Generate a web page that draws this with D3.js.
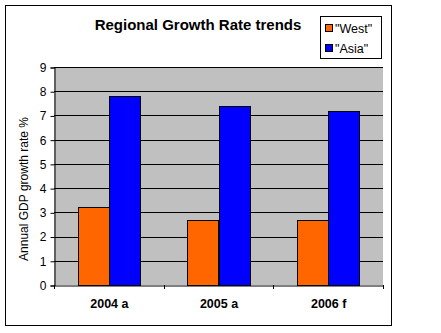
<!DOCTYPE html>
<html><head><meta charset="utf-8">
<script src="https://cdn.jsdelivr.net/npm/d3@7"></script>
<style>body{margin:0;background:#fff;}svg{display:block;}</style>
</head><body>
<script>
const categories = ["2004 a", "2005 a", "2006 f"];
const seriesNames = ["\"West\"", "\"Asia\""];
const west = [3.2, 2.7, 2.7];
const asia = [7.8, 7.4, 7.2];
const yTicks = [0,1,2,3,4,5,6,7,8,9];
const colors = ["#FF6600", "#0000FF"];

const W = 441, H = 333;
const svg = d3.select("body").append("svg").attr("width", W).attr("height", H);
const font = "Arial, 'Liberation Sans', sans-serif";

svg.append("rect").attr("x",5.5).attr("y",5.5).attr("width",386).attr("height",320)
  .attr("fill","#fff").attr("stroke","#000");

const L = 54, R = 383, T = 67, B = 285;
const x = d3.scaleBand().domain(categories).range([L, R]);
const y = d3.scaleLinear().domain([0, 9]).range([B, T]);

svg.append("rect").attr("x",L).attr("y",T).attr("width",R-L).attr("height",B-T).attr("fill","#C0C0C0");

// gridlines
svg.append("g").selectAll("line").data(yTicks.slice(1)).join("line")
  .attr("x1",L).attr("x2",R).attr("y1",d=>Math.round(y(d))+0.5).attr("y2",d=>Math.round(y(d))+0.5)
  .attr("stroke","#000");

// bars
const bw = x.bandwidth();
const barW = bw*0.284;
const data = [west, asia];
data.forEach((vals, si) => {
  svg.append("g").selectAll("rect").data(vals).join("rect")
    .attr("x",(d,i)=>Math.round(x(categories[i]) + bw/2 - barW + si*barW)+0.5)
    .attr("y",d=>Math.round(y(d))+0.5)
    .attr("width",Math.round(barW))
    .attr("height",d=>Math.round(B - y(d)))
    .attr("fill",colors[si]).attr("stroke","#000");
});

// y axis
const ya = svg.append("g").attr("transform",`translate(${L+0.5},0.5)`)
  .call(d3.axisLeft(y).tickValues(yTicks).tickSize(4).tickPadding(4).tickFormat(d3.format("d")));
ya.select(".domain").attr("stroke","#000");
ya.selectAll("text").attr("font-family",font).attr("font-size",12).attr("fill","#000");

// x axis
const xa = svg.append("g").attr("transform",`translate(0.5,${B+0.5})`)
  .call(d3.axisBottom(x).tickSize(0).tickPadding(14));
xa.select(".domain").attr("stroke","#000");
xa.selectAll("text").attr("font-family",font).attr("font-size",12.5).attr("font-weight","bold").attr("fill","#000");
svg.append("g").selectAll("line").data([L, x(categories[1]), x(categories[2]), R]).join("line")
  .attr("x1",d=>Math.round(d)+0.5).attr("x2",d=>Math.round(d)+0.5).attr("y1",B).attr("y2",B+4).attr("stroke","#000");

// title
svg.append("text").attr("x",198).attr("y",30).attr("text-anchor","middle")
  .attr("font-family",font).attr("font-size",15).attr("font-weight","bold").text("Regional Growth Rate trends");

// y title
svg.append("text").attr("transform",`translate(28,189) rotate(-90)`).attr("text-anchor","middle")
  .attr("font-family",font).attr("font-size",12).text("Annual GDP growth rate %");

// legend
const lg = svg.append("g");
lg.append("rect").attr("x",320.5).attr("y",16.5).attr("width",61).attr("height",42).attr("fill","#fff").attr("stroke","#000");
seriesNames.forEach((n,i)=>{
  lg.append("rect").attr("x",325.5).attr("y",24.5+i*20).attr("width",7).attr("height",7).attr("fill",colors[i]).attr("stroke","#000");
  lg.append("text").attr("x",335).attr("y",32.5+i*20).attr("font-family",font).attr("font-size",12.5).text(n);
});
</script>
</body></html>
